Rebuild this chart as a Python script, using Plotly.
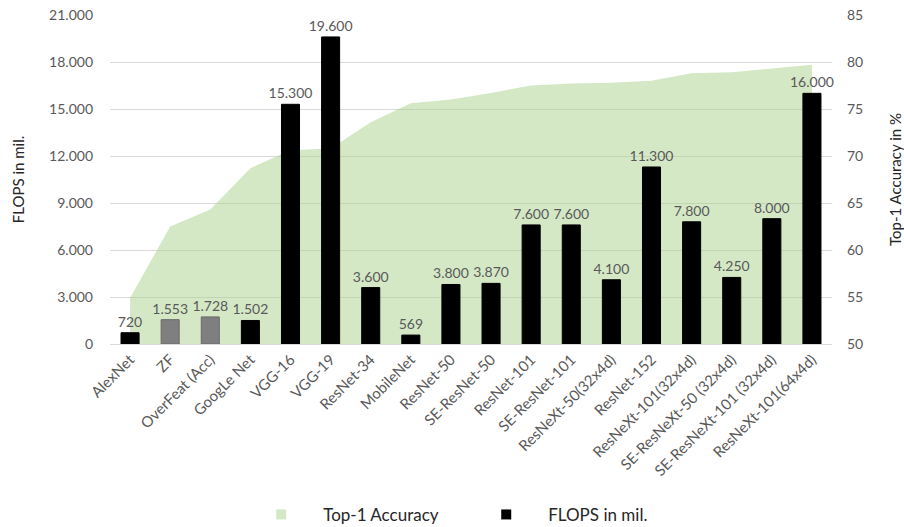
import plotly.graph_objects as go

# Networks, compute cost and ImageNet top-1 accuracy
models = [
    "AlexNet", "ZF", "OverFeat (Acc)", "GoogLe Net", "VGG-16", "VGG-19",
    "ResNet-34", "MobileNet", "ResNet-50", "SE-ResNet-50", "ResNet-101",
    "SE-ResNet-101", "ResNeXt-50(32x4d)", "ResNet-152", "ResNeXt-101(32x4d)",
    "SE-ResNeXt-50 (32x4d)", "SE-ResNeXt-101 (32x4d)", "ResNeXt-101(64x4d)",
]
flops = [720, 1553, 1728, 1502, 15300, 19600, 3600, 569, 3800, 3870,
         7600, 7600, 4100, 11300, 7800, 4250, 8000, 16000]
top1 = [54.9, 62.5, 64.3, 68.7, 70.6, 70.8, 73.6, 75.6, 76.0, 76.7,
        77.5, 77.7, 77.8, 78.0, 78.8, 78.9, 79.3, 79.7]
gray_models = ["ZF", "OverFeat (Acc)"]

flops_ticks = list(range(0, 21001, 3000))
acc_ticks = list(range(50, 86, 5))

FONT = "Lato"
TXT = "#595959"
TITLE = "#262626"
bar_colors = ["#7f7f7f" if m in gray_models else "#000000" for m in models]
line_colors = ["#6a6a6a" if m in gray_models else "#000000" for m in models]
AREA = "rgba(169,209,142,0.5)"

fig = go.Figure()

# accuracy area on the primary (right) axis, drawn underneath the bars
fig.add_trace(go.Scatter(
    x=models, y=top1, yaxis="y", mode="none", fill="tozeroy",
    fillcolor=AREA, showlegend=False, hoverinfo="skip",
))

# FLOPS bars on the overlaid left axis
fig.add_trace(go.Bar(
    x=models, y=flops, yaxis="y2",
    marker=dict(color=bar_colors, line=dict(color=line_colors, width=1)),
    texttemplate="%{y:,}", textposition="outside", constraintext="none",
    textfont=dict(family=FONT, size=14, color=TXT),
    cliponaxis=False, showlegend=False,
))

# legend entries
fig.add_trace(go.Scatter(
    x=[None], y=[None], mode="markers", name="Top-1 Accuracy",
    marker=dict(symbol="square", size=10, color="#d4e8c6"),
))
fig.add_trace(go.Scatter(
    x=[None], y=[None], mode="markers", name="FLOPS in mil.", yaxis="y2",
    marker=dict(symbol="square", size=10, color="#000000"),
))

fig.update_layout(
    width=904, height=527,
    margin=dict(l=110, r=72, t=15, b=183),
    paper_bgcolor="white", plot_bgcolor="white",
    separators=",.",
    bargap=0.55,
    font=dict(family=FONT, size=13, color=TXT),
    xaxis=dict(
        tickangle=-45, tickfont=dict(family=FONT, size=15, color=TXT),
        showgrid=False, showline=True, linecolor="#d9d9d9", linewidth=1,
        ticks="", zeroline=False, automargin=False,
    ),
    yaxis=dict(
        side="right", range=[50, 85], tickvals=acc_ticks,
        showgrid=False, zeroline=False, ticks="", automargin=False,
        ticklabelstandoff=14,
        tickfont=dict(family=FONT, size=14, color=TXT),
        title=dict(text="Top-1 Accuracy in %", standoff=30,
                   font=dict(family=FONT, size=15, color=TITLE)),
    ),
    yaxis2=dict(
        side="left", overlaying="y", range=[0, 21000], tickvals=flops_ticks,
        tickformat=",", showgrid=True, gridcolor="#d9d9d9", gridwidth=1,
        zeroline=False, ticks="", ticklabelstandoff=16, automargin=False,
        tickfont=dict(family=FONT, size=14, color=TXT),
        title=dict(text="FLOPS in mil.", standoff=20,
                   font=dict(family=FONT, size=15, color=TITLE)),
    ),
    legend=dict(
        orientation="h", yref="container", x=0.179, xanchor="left",
        y=0.023, yanchor="middle",
        font=dict(family=FONT, size=17, color=TITLE),
        entrywidth=136, itemwidth=74,
    ),
)

fig.write_html("out.html")
